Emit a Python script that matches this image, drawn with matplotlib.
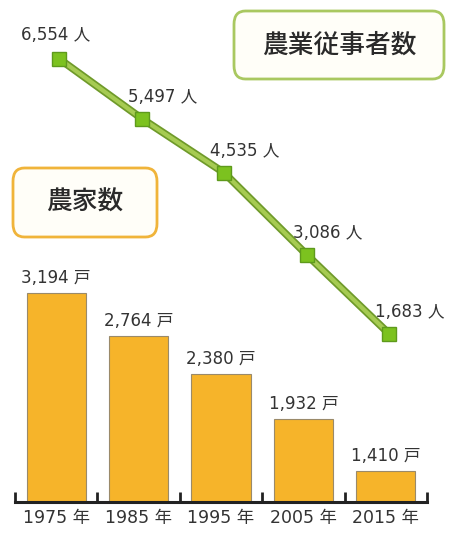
import matplotlib.pyplot as plt
from matplotlib.patches import FancyBboxPatch

plt.rcParams['font.family'] = ['DejaVu Sans', 'Noto Sans CJK JP']

# data
years = ['1975 年', '1985 年', '1995 年', '2005 年', '2015 年']
households = [3194, 2764, 2380, 1932, 1410]      # 農家数 (戸)
workers = [6554, 5497, 4535, 3086, 1683]         # 農業従事者数 (人)

W, H = 458, 533
fig = plt.figure(figsize=(W / 100, H / 100), dpi=100)

# main axes: axis line at y=502px, from x=15 to x=427
ax = fig.add_axes([15 / W, (H - 502) / H, 412 / W, 502 / H])
ax.set_xlim(-0.5, 4.5)
ax.set_ylim(1100, 6120)
x = range(len(years))
ax.bar(x, households, width=0.72, bottom=0, color='#F6B42A',
       edgecolor='#9a8a6a', linewidth=0.8, zorder=2)
for i, v in enumerate(households):
    ax.annotate(f'{v:,} 戸', (i, v), xytext=(0, 4), textcoords='offset points',
                ha='center', va='bottom', fontsize=12, color='#333333')

for s in ['top', 'right', 'left']:
    ax.spines[s].set_visible(False)
ax.spines['bottom'].set_linewidth(2.2)
ax.spines['bottom'].set_color('#222222')
ax.set_yticks([])
ax.set_xticks([-0.5, 0.5, 1.5, 2.5, 3.5, 4.5])
ax.set_xticklabels([])
ax.tick_params(axis='x', direction='in', length=7, width=2, color='#222222')
for i, lab in enumerate(years):
    ax.text(i, -0.014, lab, transform=ax.get_xaxis_transform(), ha='center',
            va='top', fontsize=12.5, color='#333333')

# line on a twin axis
ax2 = ax.twinx()
ax2.set_ylim(-1300, 7601)
ax2.axis('off')
xl = [i + 0.04 for i in x]
ax2.plot(xl, workers, color='#6f9a2a', linewidth=5.5, zorder=3,
         solid_capstyle='butt')
ax2.plot(xl, workers, color='#a6cb52', linewidth=3, zorder=4,
         solid_capstyle='butt')
ax2.plot(xl, workers, linestyle='none', marker='s', markersize=10,
         markerfacecolor='#7cc21f', markeredgecolor='#5e9a1c',
         markeredgewidth=1, zorder=5)
offsets = [(-3, 11), (-10, 9), (-10, 9), (-10, 9), (-10, 9)]
for i, v in enumerate(workers):
    dx, dy = offsets[i]
    ax2.annotate(f'{v:,} 人', (xl[i], v), xytext=(dx, dy),
                 textcoords='offset points',
                 ha='center' if i == 0 else 'left', va='bottom',
                 fontsize=12, color='#333333')

# title boxes in pixel coordinates
def box(x0, y0, x1, y1, edge, text):
    p = FancyBboxPatch((x0 / W, 1 - y1 / H), (x1 - x0) / W, (y1 - y0) / H,
                       boxstyle='round,pad=0,rounding_size=0.025',
                       transform=fig.transFigure, facecolor='#fffef8',
                       edgecolor=edge, linewidth=2, zorder=6)
    fig.add_artist(p)
    fig.text((x0 + x1) / 2 / W, 1 - (y0 + y1) / 2 / H, text, ha='center',
             va='center', fontsize=18.5, color='#2a2a2a', fontweight='medium',
             family='Noto Sans CJK JP', zorder=7)

box(234, 11, 444, 79, '#a9c860', '農業従事者数')
box(13, 168, 157, 237, '#f0b43a', '農家数')

fig.savefig('out.png', dpi=100)
